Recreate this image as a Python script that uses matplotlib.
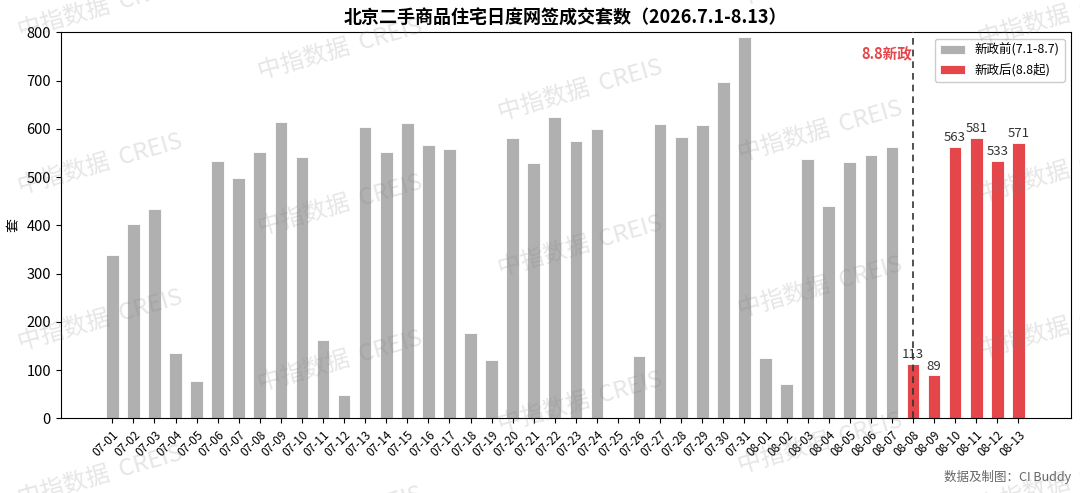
import matplotlib
matplotlib.use("Agg")
import matplotlib.pyplot as plt
import numpy as np

plt.rcParams['font.family'] = ['Noto Sans CJK SC', 'DejaVu Sans']
plt.rcParams['axes.unicode_minus'] = False

dates_pre = ['07-01', '07-02', '07-03', '07-04', '07-05', '07-06', '07-07', '07-08',
             '07-09', '07-10', '07-11', '07-12', '07-13', '07-14', '07-15', '07-16',
             '07-17', '07-18', '07-19', '07-20', '07-21', '07-22', '07-23', '07-24',
             '07-25', '07-26', '07-27', '07-28', '07-29', '07-30', '07-31', '08-01',
             '08-02', '08-03', '08-04', '08-05', '08-06', '08-07']
values_pre = [339, 402, 434, 135, 78, 533, 499, 552, 615, 542, 162, 48, 603, 551,
              611, 567, 559, 177, 120, 580, 530, 625, 574, 600, 0, 130, 609, 582,
              607, 696, 790, 125, 72, 537, 441, 531, 546, 562]
dates_post = ['08-08', '08-09', '08-10', '08-11', '08-12', '08-13']
values_post = [113, 89, 563, 581, 533, 571]

title = '北京二手商品住宅日度网签成交套数（2026.7.1-8.13）'
label_pre = '新政前(7.1-8.7)'
label_post = '新政后(8.8起)'
policy_label = '8.8新政'
policy_date = '08-08'
ylabel = '套'
footer = '数据及制图：CI Buddy'
watermark = '中指数据  CREIS'

gray = '#b0b0b0'
red = '#e5464a'

all_dates = dates_pre + dates_post
x_pre = np.arange(len(dates_pre))
x_post = np.arange(len(dates_pre), len(all_dates))

fig = plt.figure(figsize=(10.8, 4.93), dpi=100)
ax = fig.add_axes([0.0562, 0.1515, 0.9355, 0.783])

ax.bar(x_pre, values_pre, width=0.6, color=gray, edgecolor='white', linewidth=0.6,
       label=label_pre, zorder=2)
ax.bar(x_post, values_post, width=0.6, color=red, edgecolor='white',
       linewidth=0.6, label=label_post, zorder=2)
for xi, v in zip(x_post, values_post):
    ax.annotate(str(v), (xi, v), xytext=(0, 2), textcoords='offset points',
                ha='center', va='bottom', fontsize=9.5, color='#333333', zorder=3)

px = all_dates.index(policy_date)
ax.axvline(px, color='#333333', linestyle=(0, (4, 3)), linewidth=1.2, zorder=4)
ax.text(px - 0.05, 755, policy_label, color=red, fontsize=10.5, fontweight='bold',
        ha='right', va='center', zorder=4)

ax.set_xlim(-2.45, len(all_dates) + 1.5)
ax.set_ylim(0, 800)
ax.set_yticks(np.arange(0, 801, 100))
ax.tick_params(axis='y', labelsize=10.5)
ax.set_xticks(np.arange(len(all_dates)))
ax.set_xticklabels(all_dates, rotation=45, ha='right', rotation_mode='anchor', fontsize=8.5)
ax.set_ylabel(ylabel, fontsize=10, labelpad=4)
ax.set_title(title, fontsize=13, fontweight='bold', pad=6)

ax.legend(loc='upper right', fontsize=9, frameon=True, framealpha=1.0,
          edgecolor='#cccccc', handlelength=2.0)

fig.text(0.9917, 0.018, footer, ha='right', va='bottom', fontsize=9, color='#666666')

# watermarks
for c in range(5):
    for r in range(-1, 5):
        xc = 100 + 240 * c
        yc = 8 + 41 * c + 156 * r
        if -40 < yc < 530:
            fig.text(xc / 1080, 1 - yc / 493, watermark, fontsize=17, color='#808080',
                     alpha=0.2, rotation=16, ha='center', va='center', zorder=10,
                     fontweight='medium')

fig.savefig('out.png', dpi=100)
